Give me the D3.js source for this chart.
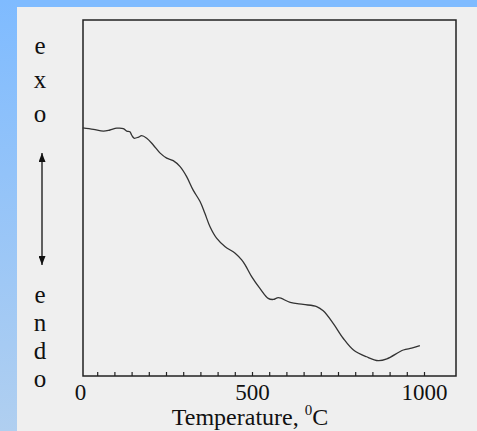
<!DOCTYPE html>
<html>
<head>
    <title>DTA curve</title>
    <script src='https://cdn.jsdelivr.net/npm/d3@7'></script>
    <style type='text/css'>
        html, body {
            margin: 0;
            padding: 0;
            overflow: hidden;
            background: #efefef;
        }
        text {
            font-family: 'Liberation Serif', 'Times New Roman', serif;
            fill: #111;
        }
    </style>
</head>
<body>
    <script>
        // Data (temperature in deg C, signal in arbitrary units)
        const temps = [8, 39, 68, 87, 107, 126, 136, 145, 150, 157, 170, 179, 194, 213, 233, 252, 271, 291,
            310, 329, 349, 363, 378, 397, 422, 451, 470, 480, 499, 523, 547, 562, 577, 611, 649, 688, 707,
            736, 765, 795, 833, 867, 892, 940, 964, 988];
        const signal = [69.7, 69.3, 68.8, 69.1, 69.6, 69.5, 68.8, 68.6, 67.7, 66.8, 67.1, 67.5, 66.8, 64.9,
            62.6, 61.2, 60.5, 58.8, 56.0, 52.2, 49.0, 45.7, 41.9, 38.7, 36.3, 34.5, 32.6, 31.2, 27.9, 24.6,
            21.8, 21.5, 22.0, 20.7, 20.1, 19.5, 18.3, 14.8, 10.6, 7.3, 5.4, 4.3, 4.8, 7.3, 7.8, 8.5];
        const labelTicks = [0, 500, 1000];
        const minorTicks = d3.range(50, 1001, 50);
        const exoLetters = ['e', 'x', 'o'];
        const endoLetters = ['e', 'n', 'd', 'o'];

        const width = 477, height = 431;
        const svg = d3.select('body').append('svg')
            .attr('width', width)
            .attr('height', height);

        // blue frame on the top and left
        const defs = svg.append('defs');
        const grad = defs.append('linearGradient')
            .attr('id', 'side').attr('x1', 0).attr('y1', 0).attr('x2', 0).attr('y2', 1);
        grad.append('stop').attr('offset', '0%').attr('stop-color', '#7fbbff');
        grad.append('stop').attr('offset', '100%').attr('stop-color', '#b0cff0');
        svg.append('rect').attr('x', 0).attr('y', 0).attr('width', width).attr('height', 7).attr('fill', '#7fbbff');
        svg.append('rect').attr('x', 0).attr('y', 0).attr('width', 17).attr('height', height).attr('fill', 'url(#side)');

        // plot box
        const box = { left: 83, right: 456, top: 20, bottom: 376 };
        const x = d3.scaleLinear().domain([0, 1000]).range([80, 424]);
        const y = d3.scaleLinear().domain([0, 100]).range([box.bottom, box.top]);

        svg.append('rect')
            .attr('x', box.left).attr('y', box.top)
            .attr('width', box.right - box.left).attr('height', box.bottom - box.top)
            .attr('fill', 'none').attr('stroke', '#222').attr('stroke-width', 1.5);

        // minor ticks pointing inward
        const minorAxis = svg.append('g')
            .attr('transform', `translate(0,${box.bottom})`)
            .call(d3.axisBottom(x).tickValues(minorTicks).tickSize(-4).tickFormat(''));
        minorAxis.select('.domain').remove();
        minorAxis.selectAll('line').attr('stroke', '#222').attr('stroke-width', 1.2);

        // tick labels
        const labelAxis = svg.append('g')
            .attr('transform', `translate(0,${box.bottom})`)
            .call(d3.axisBottom(x).tickValues(labelTicks).tickFormat(d3.format('d')).tickSize(0).tickPadding(8));
        labelAxis.select('.domain').remove();
        labelAxis.selectAll('text')
            .style('font-family', "'Liberation Serif', serif")
            .attr('font-size', 23)
            .attr('fill', '#111');

        // x title
        const title = svg.append('text')
            .attr('x', 250).attr('y', 425)
            .attr('text-anchor', 'middle')
            .attr('font-size', 24);
        title.append('tspan').text('Temperature, ');
        title.append('tspan').text('0').attr('font-size', 15).attr('dy', -10);
        title.append('tspan').text('C').attr('dy', 10);

        // exo / endo labels
        svg.append('g').selectAll('text')
            .data(exoLetters).join('text')
            .attr('x', 40).attr('y', (d, i) => 54 + i * 34)
            .attr('text-anchor', 'middle')
            .attr('font-size', 25)
            .text(d => d);
        svg.append('g').selectAll('text')
            .data(endoLetters).join('text')
            .attr('x', 40).attr('y', (d, i) => 303 + i * 28)
            .attr('text-anchor', 'middle')
            .attr('font-size', 25)
            .text(d => d);

        // double arrow
        defs.append('marker')
            .attr('id', 'arrow')
            .attr('viewBox', '0 -5 10 10')
            .attr('refX', 10).attr('refY', 0)
            .attr('markerWidth', 9).attr('markerHeight', 7)
            .attr('markerUnits', 'userSpaceOnUse')
            .attr('orient', 'auto-start-reverse')
            .attr('preserveAspectRatio', 'none')
            .append('path')
            .attr('fill', '#111')
            .attr('d', 'M0,-5L10,0L0,5Z');
        svg.append('line')
            .attr('x1', 42).attr('x2', 42)
            .attr('y1', 153).attr('y2', 265)
            .attr('stroke', '#111').attr('stroke-width', 1.3)
            .attr('marker-start', 'url(#arrow)')
            .attr('marker-end', 'url(#arrow)');

        // curve
        const line = d3.line()
            .x((d, i) => x(temps[i]))
            .y(d => y(d))
            .curve(d3.curveCatmullRom);
        svg.append('path')
            .datum(signal)
            .attr('d', line)
            .attr('fill', 'none')
            .attr('stroke', '#333')
            .attr('stroke-width', 1.3);
    </script>
</body>
</html>
